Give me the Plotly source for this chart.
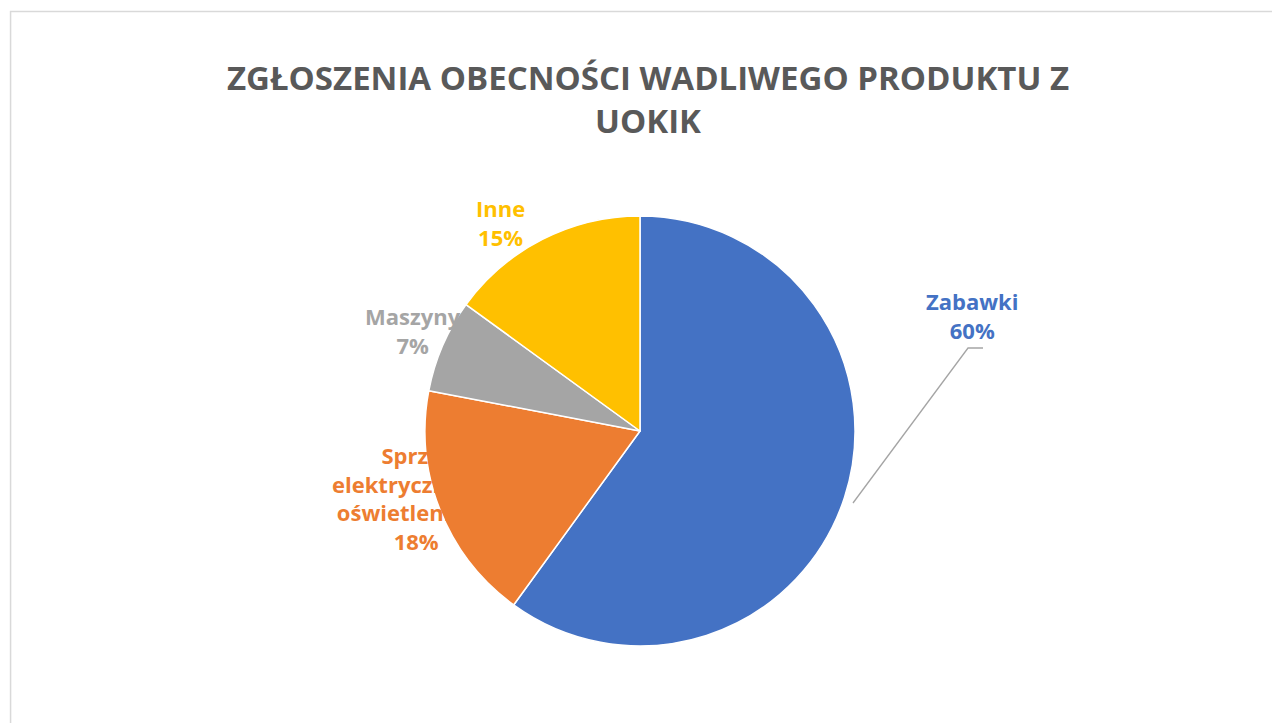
import plotly.graph_objects as go

labels = ["Zabawki", "Sprzęt elektryczny lub oświetleniowy", "Maszyny", "Inne"]
label_text = ["<b>Zabawki<br>60%</b>", "<b>Sprzęt<br>elektryczny lub<br>oświetleniowy<br>18%</b>", "<b>Maszyny<br>7%</b>", "<b>Inne<br>15%</b>"]
values = [60, 18, 7, 15]
colors = ["#4472C4", "#ED7D31", "#A5A5A5", "#FFC000"]

W, H = 1280, 723
cx, cy, r = 632, 423, 215
fig = go.Figure(go.Pie(
    labels=labels, values=values, sort=False, direction="clockwise", rotation=0,
    marker=dict(colors=colors, line=dict(color="white", width=1.5)),
    textinfo="none", hoverinfo="label+percent", showlegend=False,
    domain=dict(x=[(cx-r)/W, (cx+r)/W], y=[1-(cy+r)/H, 1-(cy-r)/H]),
))

pos = [(1012, 307), (322, 550), (355, 322), (492, 183)]
for (x, y), t, c in zip(pos, label_text, colors):
    fig.add_annotation(x=x/W, y=1-y/H, xref="paper", yref="paper", text=t, showarrow=False,
                       font=dict(family="Open Sans", size=22, color=c), align="center")

fig.add_shape(type="path", xref="paper", yref="paper",
              path=f"M {845/W} {1-495/H} L {960/W} {1-340/H} L {975/W} {1-340/H}",
              line=dict(color="#A5A5A5", width=1.3))
fig.add_shape(type="rect", xref="paper", yref="paper", x0=0.002, y0=0.004, x1=0.997, y1=0.995,
              line=dict(color="#D9D9D9", width=1.5))

fig.update_layout(
    width=W, height=H, margin=dict(l=0, r=0, t=0, b=0),
    paper_bgcolor="white", plot_bgcolor="white",
    title=dict(text="<b>ZGŁOSZENIA OBECNOŚCI WADLIWEGO PRODUKTU Z<br>UOKIK</b>",
               x=0.5, y=1-82/H, xanchor="center", yanchor="middle",
               font=dict(family="Open Sans", size=33, color="#595959")),
)
fig.write_html("out.html")
